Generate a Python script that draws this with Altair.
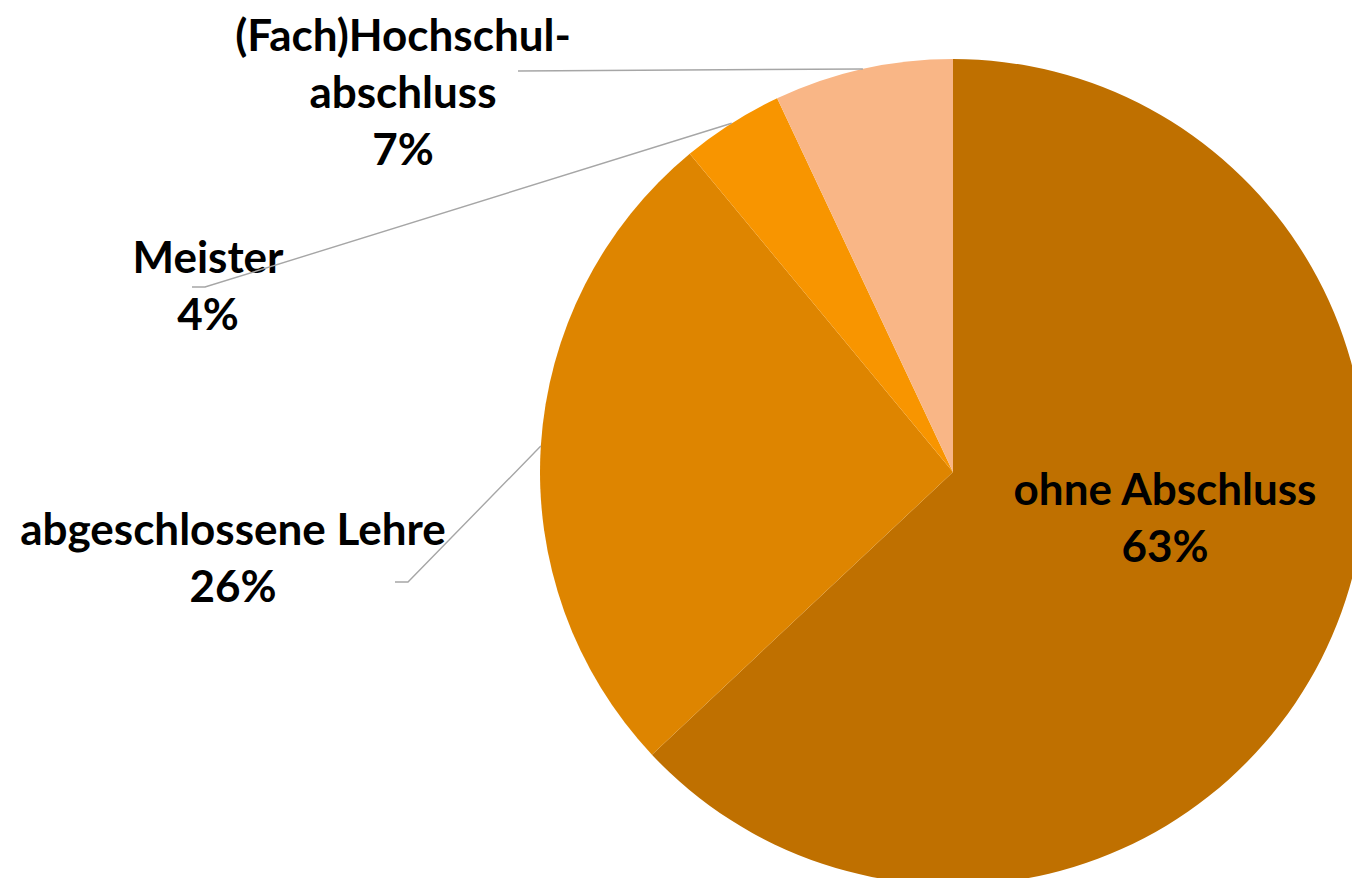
import math
import altair as alt
import pandas as pd

# ---- data -------------------------------------------------------------
categories = ["ohne Abschluss", "abgeschlossene Lehre", "Meister", "(Fach)Hochschulabschluss"]
label_lines = [["ohne Abschluss"], ["abgeschlossene Lehre"], ["Meister"], ["(Fach)Hochschul-", "abschluss"]]
shares = [63, 26, 4, 7]
colors = ["#BF7000", "#DE8500", "#F89500", "#F9B686"]

# ---- layout (chart pixels) ---------------------------------------------
W, H = 1344, 870
CX, CY, R = 945, 464, 413
FONT = "Lato"
FS = 44
LH = 57
# label anchor: centre x, baseline of first line
label_pos = [(1157, 497), (225, 537), (200, 265), (395, 43)]
# leader line points after the slice edge point (None = inside label)
leader_path = [None, [(400, 574), (387, 574)], [(197, 279), (184, 279)], [(510, 63)]]

# ---- tables -------------------------------------------------------------
pie_df = pd.DataFrame({"category": categories, "share": shares, "idx": list(range(len(shares)))})

text_rows = []
for i, (cat, v) in enumerate(zip(categories, shares)):
    lines = label_lines[i] + [f"{v}%"]
    x0, y0 = label_pos[i]
    for j, t in enumerate(lines):
        text_rows.append({"category": cat, "text": t, "px": x0, "py": y0 + j * LH})
text_df = pd.DataFrame(text_rows)

line_rows = []
total = sum(shares)
cum = 0
for i, (cat, v) in enumerate(zip(categories, shares)):
    mid = 2 * math.pi * (cum + v / 2) / total
    cum += v
    if leader_path[i] is None:
        continue
    sx = CX + R * math.sin(mid)
    sy = CY - R * math.cos(mid)
    pts = [(sx, sy)] + leader_path[i]
    for k, (px, py) in enumerate(pts):
        line_rows.append({"category": cat, "seq": k, "px": px, "py": py})
line_df = pd.DataFrame(line_rows)

xs = alt.Scale(domain=[0, W], range=[0, W])
ys = alt.Scale(domain=[0, H], range=[0, H])

pie = alt.Chart(pie_df).mark_arc(radius=R, stroke=None).encode(
    theta=alt.Theta("share:Q", stack=True),
    color=alt.Color("category:N", scale=alt.Scale(domain=categories, range=colors), legend=None),
    order=alt.Order("idx:Q"),
    x=alt.value(CX),
    y=alt.value(CY),
)

texts = alt.Chart(text_df).mark_text(
    font=FONT, fontSize=FS, fontWeight="bold", color="#000000",
    align="center", baseline="alphabetic",
).encode(
    x=alt.X("px:Q", scale=xs, axis=None),
    y=alt.Y("py:Q", scale=ys, axis=None),
    text="text:N",
)

leaders = alt.Chart(line_df).mark_line(stroke="#A6A6A6", strokeWidth=1.4).encode(
    x=alt.X("px:Q", scale=xs, axis=None),
    y=alt.Y("py:Q", scale=ys, axis=None),
    detail="category:N",
    order="seq:Q",
)

chart = alt.layer(pie, texts, leaders).properties(
    width=W, height=H, autosize=alt.AutoSizeParams(type="none"), padding=0,
    background="#FFFFFF",
).configure_view(stroke=None)

chart.save("out.html", embed_options={"renderer": "svg", "actions": False})
